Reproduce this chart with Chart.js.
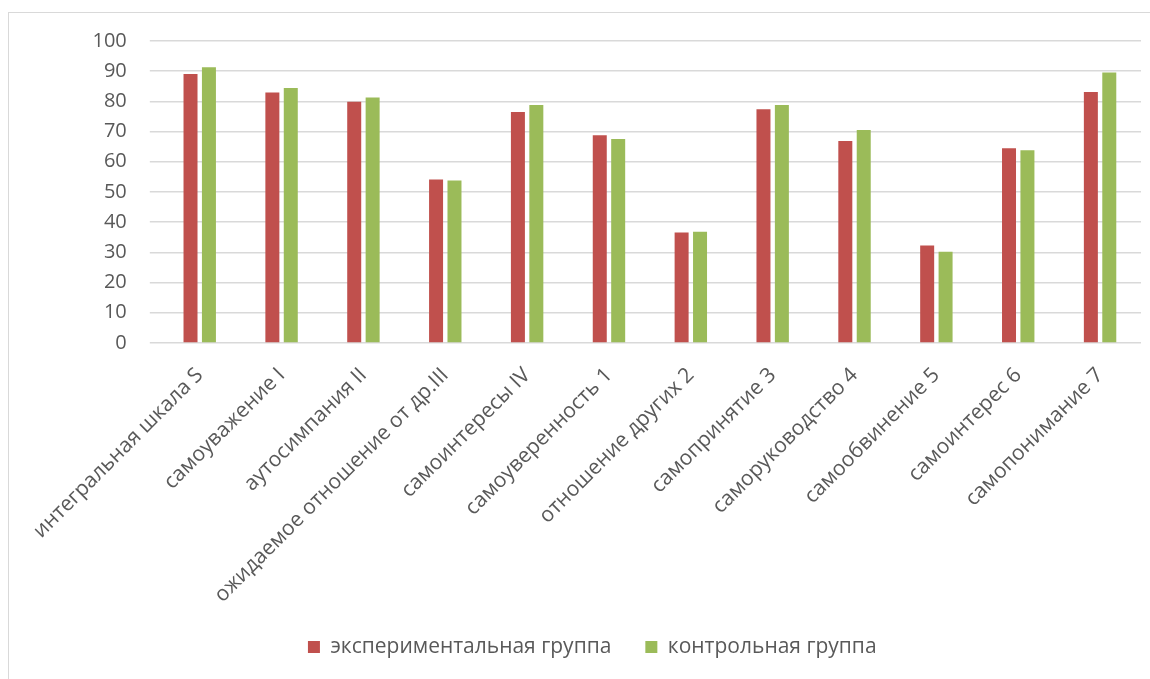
<!DOCTYPE html>
<html>
<head>
<meta charset="utf-8">
<script src="https://cdn.jsdelivr.net/npm/chart.js@4"></script>
<style>
    html, body { margin: 0; padding: 0; background: #fff; overflow: hidden; }
    #frame {
        position: absolute; left: 8px; top: 12px; width: 1400px; height: 900px;
        border: 1px solid #D9D9D9; box-sizing: border-box;
    }
    #chart { position: absolute; left: 0; top: 0; }
</style>
</head>
<body>
<div id="frame"></div>
<canvas id="chart" width="1150" height="679"></canvas>
<script>
const categories = [
    'интегральная шкала S',
    'самоуважение I',
    'аутосимпания II',
    'ожидаемое отношение от др.III',
    'самоинтересы IV',
    'самоуверенность 1',
    'отношение других 2',
    'самопринятие 3',
    'саморуководство 4',
    'самообвинение 5',
    'самоинтерес 6',
    'самопонимание 7'
];
const seriesNames = ['экспериментальная группа', 'контрольная группа'];
const experimental = [89.1, 82.9, 79.9, 54.1, 76.5, 68.8, 36.6, 77.4, 66.9, 32.3, 64.5, 83.1];
const control = [91.3, 84.4, 81.3, 53.8, 78.8, 67.5, 36.8, 78.8, 70.5, 30.2, 63.8, 89.6];
const yTicks = [0, 10, 20, 30, 40, 50, 60, 70, 80, 90, 100];

const textColor = '#595959';
const gridColor = '#D9D9D9';
const family = '"Open Sans", sans-serif';

Chart.defaults.font.family = family;
Chart.defaults.color = textColor;

new Chart(document.getElementById('chart').getContext('2d'), {
    type: 'bar',
    data: {
        labels: categories,
        datasets: [
            {
                label: seriesNames[0],
                data: experimental,
                backgroundColor: '#C0504D',
                categoryPercentage: 0.45,
                barPercentage: 0.76
            },
            {
                label: seriesNames[1],
                data: control,
                backgroundColor: '#9BBB59',
                categoryPercentage: 0.45,
                barPercentage: 0.76
            }
        ]
    },
    options: {
        responsive: false,
        animation: false,
        devicePixelRatio: 1,
        layout: { padding: { left: 43.5, right: 9, top: 41, bottom: 11.5 } },
        plugins: {
            tooltip: { enabled: false },
            legend: {
                position: 'bottom',
                labels: {
                    font: { family: family, size: 21 },
                    color: textColor,
                    boxWidth: 12,
                    boxHeight: 12,
                    padding: 34
                }
            }
        },
        scales: {
            x: {
                grid: { display: false },
                border: { display: false },
                ticks: {
                    font: { family: family, size: 21 },
                    color: textColor,
                    minRotation: 45,
                    maxRotation: 45,
                    autoSkip: false,
                    padding: 12
                },
                afterFit: (scale) => { scale.height = 259.6; }
            },
            y: {
                min: 0,
                max: 100,
                afterBuildTicks: (scale) => { scale.ticks = yTicks.map(v => ({ value: v })); },
                grid: { color: gridColor, lineWidth: 1.5, drawTicks: true, tickLength: 9 },
                border: { display: false },
                ticks: { font: { family: family, size: 20 }, color: textColor, padding: 23 },
                afterFit: (scale) => { scale.width = 115.3; }
            }
        }
    }
});
</script>
</body>
</html>
